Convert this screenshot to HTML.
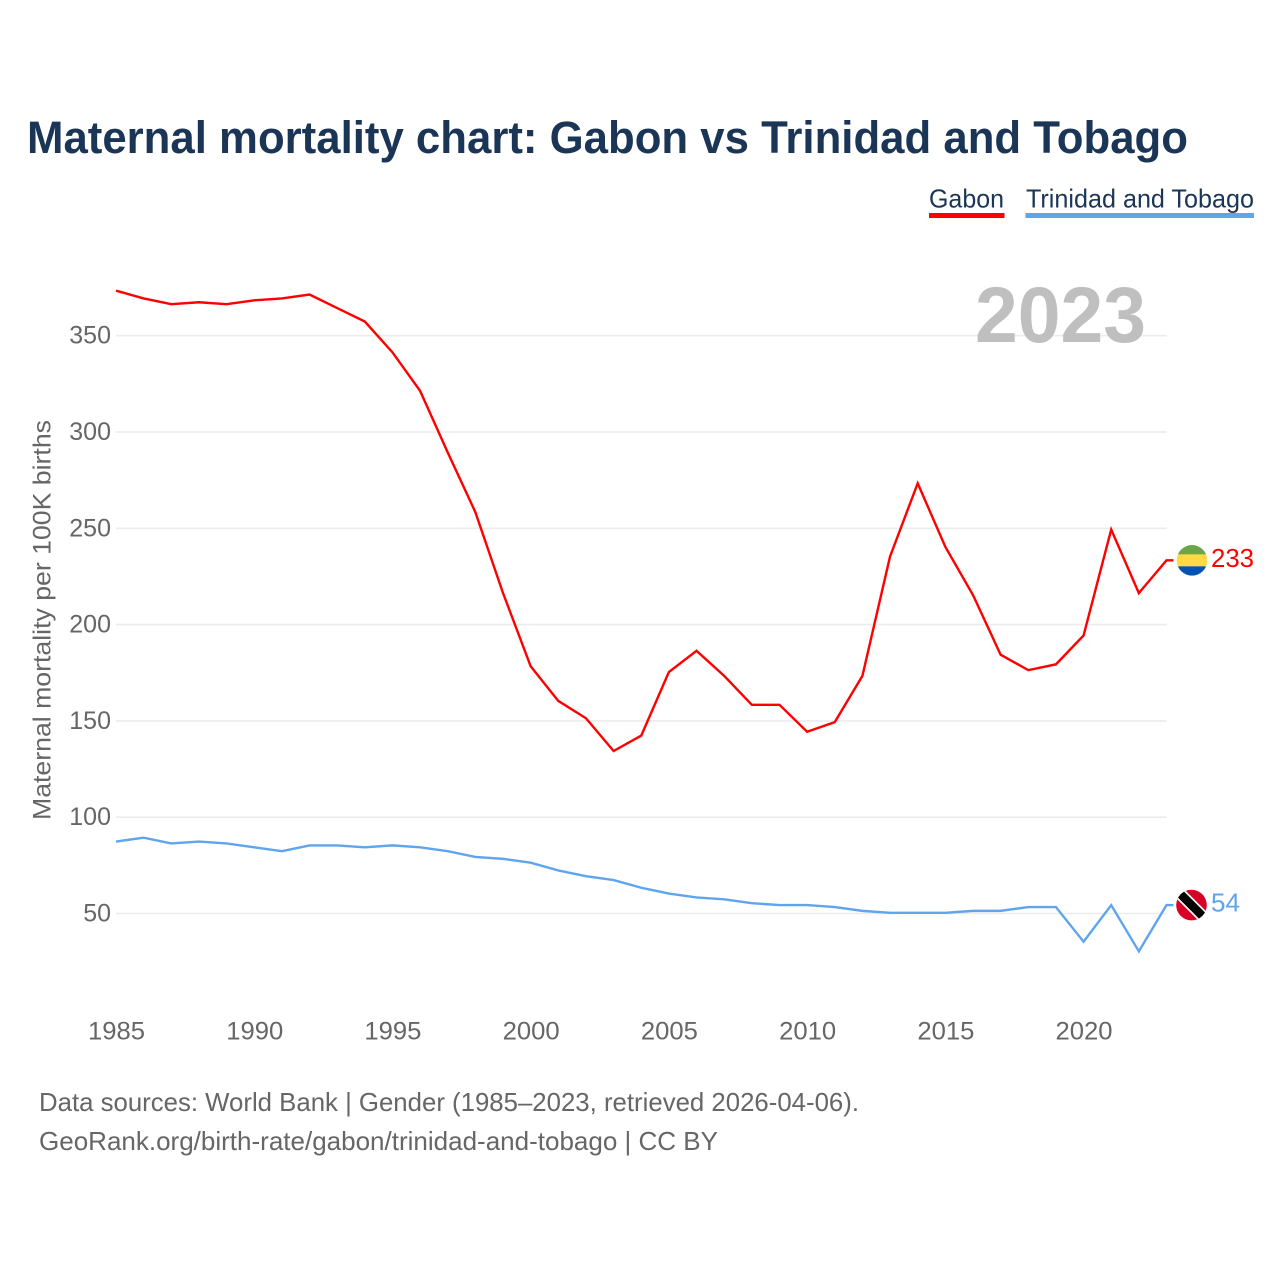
<!DOCTYPE html>
<html lang="en">
<head>
<meta charset="utf-8">
<title>Maternal mortality chart: Gabon vs Trinidad and Tobago</title>
<style>
html,body{margin:0;padding:0;background:#fff;width:1280px;height:1280px;overflow:hidden}
svg{display:block}
text{font-family:"Liberation Sans",sans-serif}
</style>
</head>
<body>
<svg id="chart" xmlns="http://www.w3.org/2000/svg" width="1280" height="1280" viewBox="0 0 1280 1280">
  <defs>
    <clipPath id="flag-clip-a"><circle cx="0" cy="0" r="15.3"/></clipPath>
    <clipPath id="flag-clip-b"><circle cx="0" cy="0" r="15.3"/></clipPath>
  </defs>
  <text x="27" y="153" font-size="45" font-weight="700" fill="#1a3556" textLength="1161" lengthAdjust="spacingAndGlyphs">Maternal mortality chart: Gabon vs Trinidad and Tobago</text>

  <g>
    <g>
      <text x="929" y="207.5" font-size="26" fill="#1a3556" textLength="75" lengthAdjust="spacingAndGlyphs">Gabon</text>
      <rect x="929" y="213" width="75.5" height="5" fill="#ff0000"/>
    </g>
    <g>
      <text x="1026" y="207.5" font-size="26" fill="#1a3556" textLength="228" lengthAdjust="spacingAndGlyphs">Trinidad and Tobago</text>
      <rect x="1025.5" y="213" width="228.5" height="5" fill="#5fa5ee"/>
    </g>
  </g>

  <g id="grid"></g>
  <text x="975" y="342" font-size="79" font-weight="700" fill="#bfbfbf" textLength="171" lengthAdjust="spacingAndGlyphs">2023</text>
  <g id="y-ticks"></g>
  <g id="x-ticks"></g>
  <text transform="translate(50.5 820) rotate(-90)" font-size="25" fill="#666666" textLength="400" lengthAdjust="spacingAndGlyphs">Maternal mortality per 100K births</text>

  <g id="series"></g>

  <g id="flag-gabon">
    <g clip-path="url(#flag-clip-a)">
      <rect x="-16" y="-16" width="32" height="10.2" fill="#6da544"/>
      <rect x="-16" y="-6" width="32" height="12" fill="#ffda44"/>
      <rect x="-16" y="6" width="32" height="10" fill="#0052b4"/>
    </g>
  </g>
  <g id="flag-tt">
    <g clip-path="url(#flag-clip-b)">
      <rect x="-16" y="-16" width="32" height="32" fill="#d80027"/>
      <rect x="-22" y="-6" width="44" height="12" fill="#ffffff" transform="rotate(45)"/>
      <rect x="-22" y="-4.3" width="44" height="8.6" fill="#000000" transform="rotate(45)"/>
    </g>
  </g>
  <text id="value-gabon" x="1211" font-size="25.5" fill="#ff0000" textLength="43" lengthAdjust="spacingAndGlyphs"></text>
  <text id="value-tt" x="1211" font-size="25.5" fill="#5fa5ee" textLength="29" lengthAdjust="spacingAndGlyphs"></text>

  <g>
    <text x="39" y="1111" font-size="26" fill="#666666" textLength="820" lengthAdjust="spacingAndGlyphs">Data sources: World Bank | Gender (1985–2023, retrieved 2026-04-06).</text>
    <text x="39" y="1150" font-size="26" fill="#666666" textLength="679" lengthAdjust="spacingAndGlyphs">GeoRank.org/birth-rate/gabon/trinidad-and-tobago | CC BY</text>
  </g>
</svg>
<script>
var years = [1985,1986,1987,1988,1989,1990,1991,1992,1993,1994,1995,1996,1997,1998,1999,2000,2001,2002,2003,2004,2005,2006,2007,2008,2009,2010,2011,2012,2013,2014,2015,2016,2017,2018,2019,2020,2021,2022,2023];
var gabonValues = [373,369,366,367,366,368,369,371,364,357,341,321,289,258,216,178,160,151,134,142,175,186,173,158,158,144,149,173,235,273,240,215,184,176,179,194,249,216,233];
var trinidadValues = [87,89,86,87,86,84,82,85,85,84,85,84,82,79,78,76,72,69,67,63,60,58,57,55,54,54,53,51,50,50,50,51,51,53,53,35,54,30,54];
var yTickValues = [50,100,150,200,250,300,350];
var xTickValues = [1985,1990,1995,2000,2005,2010,2015,2020];

var NS = 'http://www.w3.org/2000/svg';
function xScale(year){ return 116 + (year - 1985) * (1050.5 / 38); }
function yScale(v){ return 913.5 - (v - 50) * 1.926; }
function yMark(v){ return yScale(v) - 0.7; }
function make(tag, attrs, parent, content){
  var el = document.createElementNS(NS, tag);
  for (var k in attrs) el.setAttribute(k, attrs[k]);
  if (content !== undefined) el.textContent = content;
  parent.appendChild(el);
  return el;
}

var gridGroup = document.getElementById('grid');
var yGroup = document.getElementById('y-ticks');
yTickValues.forEach(function(v){
  var line = make('line', {x1:116, x2:1166.5, y1:yScale(v), y2:yScale(v), stroke:'#ececec', 'stroke-width':1.6}, gridGroup);
  
  
  var label = make('text', {x:111, y:yScale(v) + 8, 'text-anchor':'end', 'font-size':25, fill:'#666666'}, yGroup, String(v));
  
  
});

var xGroup = document.getElementById('x-ticks');
xTickValues.forEach(function(y){
  var label = make('text', {x:xScale(y) + 0.5, y:1039.5, 'text-anchor':'middle', 'font-size':24.7, fill:'#666666', textLength:57, lengthAdjust:'spacingAndGlyphs'}, xGroup, String(y));
  
  
});

function pathFor(values){
  var pts = values.map(function(v, i){ return xScale(years[i]).toFixed(2) + ',' + yMark(v).toFixed(2); });
  var last = values[values.length - 1];
  pts.push((xScale(years[years.length - 1]) + 7).toFixed(2) + ',' + yMark(last).toFixed(2));
  return 'M' + pts.join('L');
}
var seriesGroup = document.getElementById('series');
var gabonLine = make('path', {d:pathFor(gabonValues), fill:'none', stroke:'#ff0000', 'stroke-width':2.4, 'stroke-linejoin':'miter'}, seriesGroup);


var trinidadLine = make('path', {d:pathFor(trinidadValues), fill:'none', stroke:'#5fa5ee', 'stroke-width':2.4, 'stroke-linejoin':'miter'}, seriesGroup);



var gabonLast = gabonValues[gabonValues.length - 1];
var trinidadLast = trinidadValues[trinidadValues.length - 1];
document.getElementById('flag-gabon').setAttribute('transform', 'translate(1192 ' + yMark(gabonLast).toFixed(2) + ')');
document.getElementById('flag-tt').setAttribute('transform', 'translate(1191.5 ' + yMark(trinidadLast).toFixed(2) + ')');
var gabonValueLabel = document.getElementById('value-gabon');
gabonValueLabel.setAttribute('y', (yScale(gabonLast) + 6).toFixed(2));
gabonValueLabel.textContent = String(gabonLast);
var trinidadValueLabel = document.getElementById('value-tt');
trinidadValueLabel.setAttribute('y', (yScale(trinidadLast) + 5.5).toFixed(2));
trinidadValueLabel.textContent = String(trinidadLast);
</script>
</body>
</html>
